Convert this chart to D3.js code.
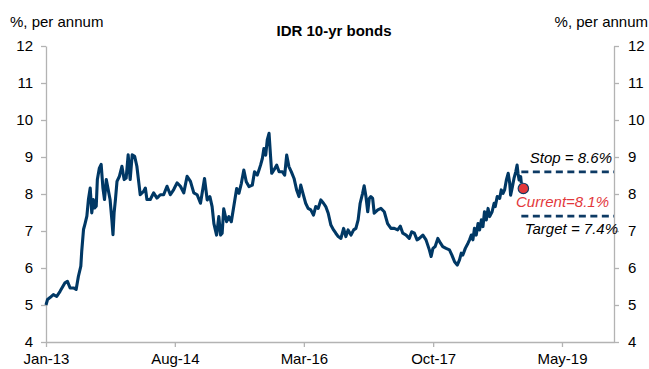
<!DOCTYPE html>
<html>
<head>
<meta charset="utf-8">
<script src="https://cdn.jsdelivr.net/npm/d3@7"></script>
<style>
  body { margin: 0; background: #fff; }
  svg text { font-family: Arial, "Liberation Sans", sans-serif; fill: #000; }
  .axis path, .axis line { stroke: #b3b3b3; stroke-width: 1.3px; }
  .axis text { font-size: 15px; }
</style>
</head>
<body>
<svg width="649" height="369"></svg>
<script>
// IDR 10-yr government bond yield, % p.a.
var series = [
  ["2013-01-01", 5.0], ["2013-01-08", 5.15], ["2013-01-19", 5.2], ["2013-02-03", 5.28], ["2013-02-18", 5.23],
  ["2013-03-05", 5.37], ["2013-03-27", 5.6], ["2013-04-07", 5.64], ["2013-04-19", 5.46], ["2013-05-04", 5.46],
  ["2013-05-16", 5.42], ["2013-05-26", 5.77], ["2013-06-06", 6.05], ["2013-06-10", 6.45], ["2013-06-18", 7.04],
  ["2013-06-25", 7.2], ["2013-07-03", 7.4], ["2013-07-10", 7.85], ["2013-07-18", 8.16], ["2013-07-25", 7.49],
  ["2013-08-01", 7.85], ["2013-08-06", 7.62], ["2013-08-14", 7.67], ["2013-08-19", 8.39], ["2013-08-28", 8.7],
  ["2013-09-05", 8.8], ["2013-09-13", 8.16], ["2013-09-20", 7.85], ["2013-09-28", 8.39], ["2013-10-08", 8.07],
  ["2013-10-15", 7.85], ["2013-10-23", 7.3], ["2013-10-28", 6.9], ["2013-11-02", 7.49], ["2013-11-08", 7.85],
  ["2013-11-15", 8.34], ["2013-11-26", 8.48], ["2013-12-07", 8.75], ["2013-12-17", 8.39], ["2013-12-26", 8.43],
  ["2014-01-04", 9.06], ["2014-01-13", 8.39], ["2014-01-22", 9.06], ["2014-02-02", 9.02], ["2014-02-12", 8.75],
  ["2014-02-20", 8.34], ["2014-02-27", 7.98], ["2014-03-14", 8.07], ["2014-03-22", 8.16], ["2014-03-29", 7.85],
  ["2014-04-13", 7.85], ["2014-04-28", 8.03], ["2014-05-13", 7.89], ["2014-05-28", 7.98], ["2014-06-12", 7.98],
  ["2014-06-27", 8.21], ["2014-07-12", 7.98], ["2014-07-27", 8.12], ["2014-08-11", 8.3], ["2014-08-26", 8.21],
  ["2014-09-10", 8.03], ["2014-09-25", 8.48], ["2014-10-10", 8.34], ["2014-10-25", 8.03], ["2014-11-09", 7.98],
  ["2014-11-24", 7.75], ["2014-12-12", 8.42], ["2014-12-24", 7.84], ["2015-01-05", 7.93], ["2015-01-15", 7.66],
  ["2015-01-23", 7.2], ["2015-02-04", 6.89], ["2015-02-14", 7.39], ["2015-02-22", 6.89], ["2015-03-01", 6.94],
  ["2015-03-08", 7.6], ["2015-03-21", 7.25], ["2015-03-31", 7.39], ["2015-04-11", 7.25], ["2015-04-22", 7.66],
  ["2015-05-05", 8.15], ["2015-05-15", 8.02], ["2015-05-26", 8.29], ["2015-06-06", 8.65], ["2015-06-17", 8.33],
  ["2015-06-29", 8.2], ["2015-07-14", 8.24], ["2015-07-24", 8.6], ["2015-08-05", 8.51], ["2015-08-13", 8.65],
  ["2015-08-20", 8.78], ["2015-08-28", 8.96], ["2015-09-04", 9.23], ["2015-09-12", 9.05], ["2015-09-19", 9.46],
  ["2015-09-27", 9.64], ["2015-10-04", 9.0], ["2015-10-09", 8.56], ["2015-10-19", 8.65], ["2015-10-31", 8.78],
  ["2015-11-11", 8.6], ["2015-11-26", 8.6], ["2015-12-06", 8.51], ["2015-12-15", 9.05], ["2015-12-25", 8.74],
  ["2016-01-05", 8.6], ["2016-01-17", 8.42], ["2016-01-29", 8.1], ["2016-02-08", 7.93], ["2016-02-16", 8.24],
  ["2016-02-28", 7.97], ["2016-03-09", 7.75], ["2016-03-20", 7.61], ["2016-04-01", 7.57], ["2016-04-13", 7.43],
  ["2016-04-23", 7.66], ["2016-05-04", 7.61], ["2016-05-16", 7.84], ["2016-05-28", 7.75], ["2016-06-07", 7.66],
  ["2016-06-18", 7.48], ["2016-06-30", 7.16], ["2016-07-12", 7.03], ["2016-07-22", 6.94], ["2016-08-02", 6.85],
  ["2016-08-14", 6.8], ["2016-08-26", 7.07], ["2016-09-05", 6.85], ["2016-09-15", 7.03], ["2016-09-28", 6.89],
  ["2016-10-10", 7.03], ["2016-10-20", 7.07], ["2016-10-30", 7.3], ["2016-11-08", 7.75], ["2016-11-19", 8.02],
  ["2016-11-26", 8.22], ["2016-12-04", 7.93], ["2016-12-12", 7.52], ["2016-12-19", 7.88], ["2016-12-26", 7.93],
  ["2017-01-03", 7.88], ["2017-01-10", 7.48], ["2017-01-26", 7.57], ["2017-02-09", 7.61], ["2017-02-24", 7.52],
  ["2017-03-11", 7.2], ["2017-03-26", 7.07], ["2017-04-10", 7.07], ["2017-04-25", 7.03], ["2017-05-07", 7.13],
  ["2017-05-18", 6.94], ["2017-06-02", 6.89], ["2017-06-16", 6.8], ["2017-06-27", 6.98], ["2017-07-09", 6.94],
  ["2017-07-21", 6.76], ["2017-07-31", 6.8], ["2017-08-16", 6.89], ["2017-08-30", 6.76], ["2017-09-14", 6.49],
  ["2017-09-22", 6.31], ["2017-09-30", 6.53], ["2017-10-10", 6.58], ["2017-10-22", 6.8], ["2017-11-03", 6.67],
  ["2017-11-13", 6.58], ["2017-11-28", 6.53], ["2017-12-13", 6.49], ["2017-12-24", 6.35], ["2018-01-05", 6.17],
  ["2018-01-17", 6.08], ["2018-01-27", 6.22], ["2018-02-04", 6.4], ["2018-02-11", 6.35], ["2018-02-22", 6.53],
  ["2018-03-06", 6.67], ["2018-03-13", 6.76], ["2018-03-21", 6.89], ["2018-03-28", 6.76], ["2018-04-04", 7.07],
  ["2018-04-12", 6.89], ["2018-04-20", 7.2], ["2018-04-27", 7.03], ["2018-05-05", 7.3], ["2018-05-12", 7.12],
  ["2018-05-19", 7.52], ["2018-05-27", 7.3], ["2018-06-04", 7.61], ["2018-06-11", 7.39], ["2018-06-22", 7.52],
  ["2018-07-01", 7.75], ["2018-07-06", 7.66], ["2018-07-15", 7.93], ["2018-07-26", 7.88], ["2018-08-02", 8.11],
  ["2018-08-10", 8.02], ["2018-08-17", 8.11], ["2018-08-25", 8.38], ["2018-09-02", 8.56], ["2018-09-09", 8.29],
  ["2018-09-13", 7.97], ["2018-09-21", 8.2], ["2018-09-28", 8.42], ["2018-10-06", 8.6], ["2018-10-12", 8.78],
  ["2018-10-16", 8.56], ["2018-10-21", 8.38], ["2018-10-28", 8.47], ["2018-10-31", 8.29]
];

var xTicks = ["2013-01-01", "2014-08-01", "2016-03-01", "2017-10-01", "2019-05-01"];
var yTicks = [4, 5, 6, 7, 8, 9, 10, 11, 12];

var stopLevel = 8.6;
var targetLevel = 7.4;
var current = ["2018-11-09", 8.15];
var levelsFrom = "2018-10-31";

var parse = d3.timeParse("%Y-%m-%d");
var data = series.map(d => ({ date: parse(d[0]), value: d[1] }));

var svg = d3.select("svg");
var margin = { left: 46, right: 35, top: 46, bottom: 27 };
var width = 649, height = 369;

var x = d3.scaleTime()
          .domain([parse("2013-01-01"), parse("2019-12-20")])
          .range([margin.left, width - margin.right]);

var y = d3.scaleLinear()
          .domain([4, 12])
          .range([height - margin.bottom, margin.top]);

// axes
svg.append("g")
    .attr("class", "axis")
    .attr("transform", `translate(0,${y(4)})`)
    .call(d3.axisBottom(x)
            .tickValues(xTicks.map(parse))
            .tickFormat(d3.timeFormat("%b-%y"))
            .tickSize(5).tickSizeOuter(0).tickPadding(6));

svg.append("g")
    .attr("class", "axis")
    .attr("transform", `translate(${x.range()[0]},0)`)
    .call(d3.axisLeft(y).tickValues(yTicks).tickSize(5).tickSizeOuter(0).tickPadding(8));

svg.append("g")
    .attr("class", "axis")
    .attr("transform", `translate(${x.range()[1]},0)`)
    .call(d3.axisRight(y).tickValues(yTicks).tickSize(5).tickSizeOuter(0).tickPadding(9));

svg.selectAll(".axis text").attr("fill", "#000");

// titles
svg.append("text")
    .attr("x", 334).attr("y", 36)
    .attr("text-anchor", "middle")
    .style("font-size", "15px").style("font-weight", "bold")
    .text("IDR 10-yr bonds");

svg.append("text")
    .attr("x", 10).attr("y", 27)
    .style("font-size", "15px")
    .text("%, per annum");

svg.append("text")
    .attr("x", 648).attr("y", 27)
    .attr("text-anchor", "end")
    .style("font-size", "15px")
    .text("%, per annum");

// the yield line
var line = d3.line()
             .x(d => x(d.date))
             .y(d => y(d.value));

svg.append("path")
    .datum(data)
    .attr("fill", "none")
    .attr("stroke", "#003865")
    .attr("stroke-width", 3.1)
    .attr("stroke-linejoin", "round")
    .attr("d", line);

// stop / target levels
var xEnd = x.range()[1];
[stopLevel, targetLevel].forEach(level => {
  svg.append("line")
      .attr("x1", x(parse(levelsFrom))).attr("x2", xEnd)
      .attr("y1", y(level)).attr("y2", y(level))
      .attr("stroke", "#0d3a64")
      .attr("stroke-width", 2.7)
      .attr("stroke-dasharray", "7,4.5");
});

svg.append("circle")
    .attr("cx", x(parse(current[0])))
    .attr("cy", y(current[1]))
    .attr("r", 5.2)
    .attr("fill", "#e3383b")
    .attr("stroke", "#0d3a64")
    .attr("stroke-width", 1.2);

svg.append("text")
    .attr("x", xEnd - 2).attr("y", y(stopLevel) - 9)
    .attr("text-anchor", "end")
    .style("font-size", "15px").style("font-style", "italic")
    .text("Stop = 8.6%");

svg.append("text")
    .attr("x", xEnd - 5).attr("y", y(8.1) + 17)
    .attr("text-anchor", "end")
    .style("fill", "#e3383b")
    .style("font-size", "15px").style("font-style", "italic")
    .text("Current=8.1%");

svg.append("text")
    .attr("x", xEnd + 4).attr("y", y(targetLevel) + 18)
    .attr("text-anchor", "end")
    .style("font-size", "15px").style("font-style", "italic")
    .text("Target = 7.4%");
</script>
</body>
</html>
